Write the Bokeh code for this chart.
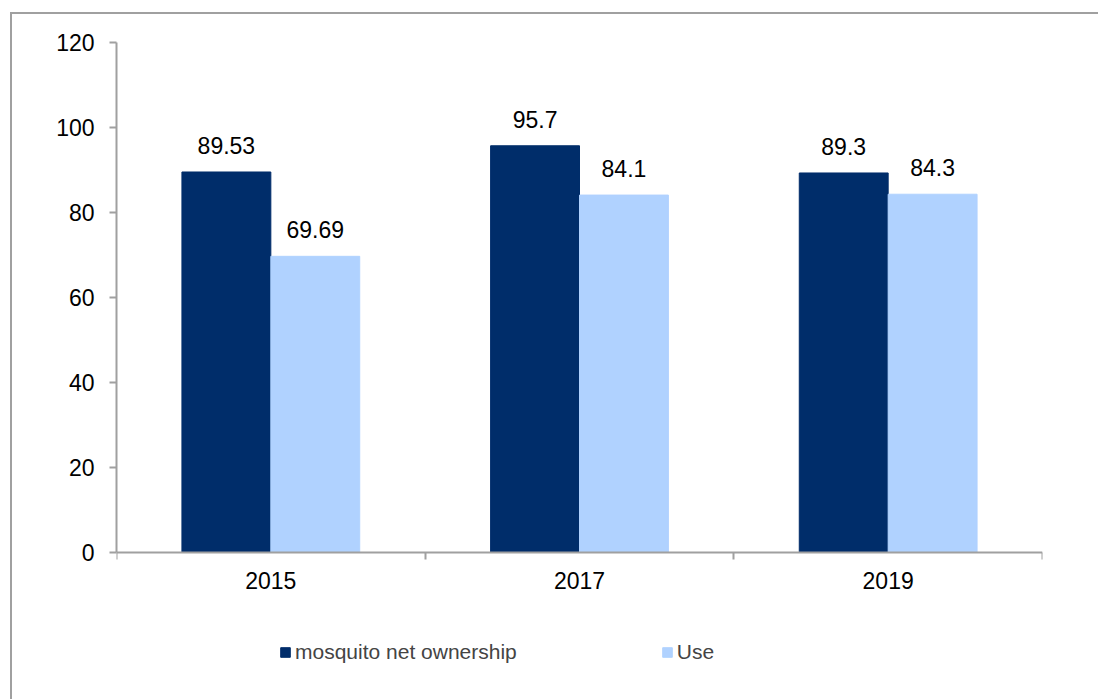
from bokeh.plotting import figure
from bokeh.models import (ColumnDataSource, FixedTicker, Range1d, LabelSet,
                          Legend, LegendItem)
from bokeh.core.properties import value
from bokeh.embed import file_html
from bokeh.resources import INLINE

years = ["2015", "2017", "2019"]
ownership = [89.53, 95.7, 89.3]
use = [69.69, 84.1, 84.3]
series_names = ["mosquito net ownership", "Use"]
y_ticks = [0, 20, 40, 60, 80, 100, 120]

DARK = "#002D6A"
LIGHT = "#B0D2FF"
AXIS = "#a0a0a0"
FONT = "Liberation Sans"
FS = "23px"

# frame: top at 42px, zero line at 552px, bottom of canvas 699px
px_per_unit = (552 - 42) / 120.0
y_low = -(699 - 552) / px_per_unit

p = figure(width=1098, height=699, output_backend="svg", toolbar_location=None,
           x_range=Range1d(0, len(years)), y_range=Range1d(y_low, 120),
           min_border_left=116, min_border_right=56, min_border_top=42,
           min_border_bottom=0)

centers = [i + 0.5 for i in range(len(years))]
off = 0.144
bw = 0.288

src1 = ColumnDataSource(dict(x=[c - off for c in centers], y=ownership,
                             t=[str(v) for v in ownership]))
src2 = ColumnDataSource(dict(x=[c + off for c in centers], y=use,
                             t=[str(v) for v in use]))

r1 = p.vbar(x="x", top="y", bottom=0, width=bw, source=src1,
            fill_color=DARK, line_color=DARK)
r2 = p.vbar(x="x", top="y", bottom=0, width=bw, source=src2,
            fill_color=LIGHT, line_color=LIGHT)

for s in (src1, src2):
    p.add_layout(LabelSet(x="x", y="y", text="t", source=s, text_align="center",
                          text_baseline="alphabetic", y_offset=18,
                          text_font=value(FONT), text_font_size=FS,
                          text_color="black"))

# axes
p.xaxis.fixed_location = 0
p.xaxis.ticker = FixedTicker(ticks=centers, minor_ticks=list(range(len(years) + 1)))
p.xaxis.major_label_overrides = {c: y for c, y in zip(centers, years)}
p.xaxis.major_tick_out = 0
p.xaxis.major_tick_in = 0
p.xaxis.minor_tick_out = 7
p.xaxis.minor_tick_in = 0
p.xaxis.minor_tick_line_color = AXIS
p.xaxis.minor_tick_line_width = 2
p.xaxis.major_label_standoff = 12

p.yaxis.ticker = FixedTicker(ticks=y_ticks, minor_ticks=[])
p.yaxis.bounds = (0, 120)
p.yaxis.major_tick_out = 7
p.yaxis.major_tick_in = 0
p.yaxis.major_label_standoff = 15

for ax in (p.xaxis, p.yaxis):
    ax.axis_line_color = AXIS
    ax.major_tick_line_color = AXIS
    ax.major_tick_line_width = 2
    ax.axis_line_width = 2
    ax.major_label_text_font = FONT
    ax.major_label_text_font_size = FS
    ax.major_label_text_color = "black"

p.xgrid.visible = False
p.ygrid.visible = False
p.outline_line_color = None

legend = Legend(items=[LegendItem(label=series_names[0], renderers=[r1]),
                       LegendItem(label=series_names[1], renderers=[r2])],
                orientation="horizontal", location=(163, 35),
                glyph_width=12, glyph_height=12, label_standoff=4, spacing=144,
                padding=0, margin=0, border_line_alpha=0,
                background_fill_alpha=0,
                label_text_font=FONT, label_text_font_size="21px")
p.add_layout(legend, "center")

p.border_fill_color = None
p.background_fill_color = "white"
p.styles = {"background": ("linear-gradient(#a0a0a0,#a0a0a0) 10px 12px / 2px 100% no-repeat, "
                           "linear-gradient(#a0a0a0,#a0a0a0) 10px 12px / 100% 2px no-repeat, "
                           "white")}

open("out.html", "w").write(file_html(p, INLINE))
